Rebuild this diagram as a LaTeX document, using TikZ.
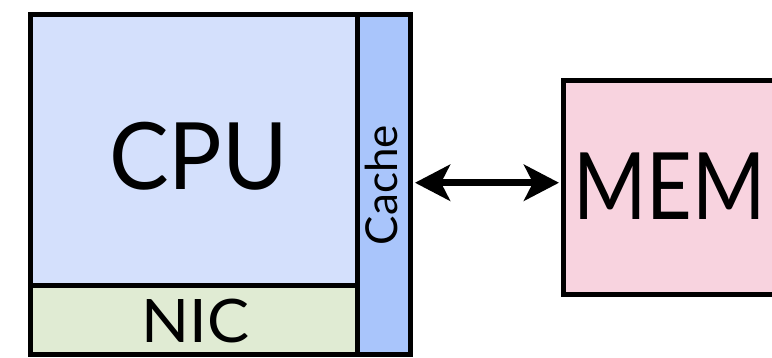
\documentclass[tikz,border=0pt]{standalone}
\usepackage{fontspec}
\setmainfont{Lato}
\usetikzlibrary{arrows.meta}
\definecolor{cpucol}{HTML}{D4E0FC}
\definecolor{cachecol}{HTML}{A9C5FB}
\definecolor{niccol}{HTML}{E0EBD3}
\definecolor{memcol}{HTML}{F8D3DF}
\tikzset{
  box/.style={draw=black, line width=5pt, outer sep=2.5pt, inner sep=0pt, rectangle, anchor=center},
  lbl/.style={inner sep=0pt, anchor=base, text=black},
  link/.style={line width=6.5pt, {Stealth[length=35pt,width=36pt,inset=9pt]}-{Stealth[length=35pt,width=36pt,inset=9pt]}}
}
\begin{document}
\begin{tikzpicture}[x=1pt,y=1pt]
\useasboundingbox (0,0) rectangle (772,358);
\clip (0,0) rectangle (772,358);
\node[box, fill=cpucol, minimum width=327.5pt, minimum height=271.5pt] (cpu) at (193.75,207.75) {};
\node[box, fill=niccol, minimum width=327.5pt, minimum height=69pt] (nic) at (193.75,37.5) {};
\node[box, fill=cachecol, minimum width=53pt, minimum height=340.5pt] (cache) at (384,173.25) {};
\node[box, fill=memcol, minimum width=236.5pt, minimum height=214pt] (mem) at (681.75,170.5) {};
\node[lbl, xscale=0.96, font=\fontsize{93}{93}\selectfont] (cputext) at (198.5,168) {CPU};
\node[lbl, xscale=1.05, font=\fontsize{60}{60}\selectfont] (nictext) at (195.5,15) {NIC};
\node[lbl, xscale=0.85, font=\fontsize{93}{93}\selectfont] (memtext) at (669.5,138) {MEM};
\node[lbl, rotate=90, font=\fontsize{44}{44}\selectfont] (cachetext) at (397,173) {Cache};
\draw[link, shorten <=2pt, shorten >=2pt] ([yshift=2pt]cache.east) -- ([yshift=2pt]cache.east -| mem.west);
\end{tikzpicture}
\end{document}
